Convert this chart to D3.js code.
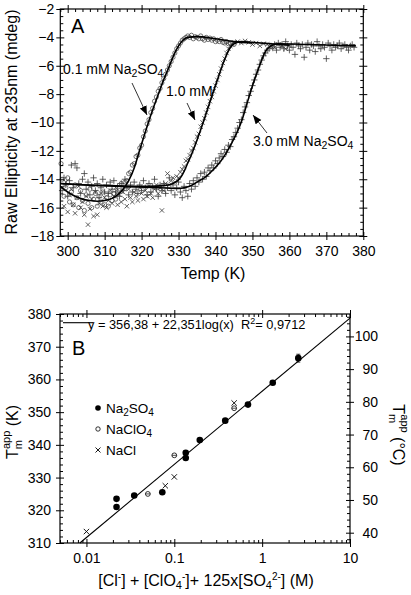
<!DOCTYPE html>
<html><head><meta charset="utf-8">
<script src="https://cdn.jsdelivr.net/npm/d3@7"></script>
<style>body{margin:0;background:#fff}svg{display:block}text{font-family:Arial,"Liberation Sans",Helvetica,sans-serif;fill:#000}</style>
</head><body><svg id="c" width="411" height="595"></svg>
<script>
// ---------- Panel A data (Temp K, mdeg) ----------
const circ01 = [[298.2,-12.9],[298.5,-14.0],[299,-15.2],[299.5,-14.6],[300,-13.9],[300.5,-15.6],[301,-14.9],[301.5,-15.8],[302,-14.4],[302.5,-15.3],[303,-16.0],[303.5,-14.8],[304,-15.5],[304.5,-16.2],[305,-15.1],[305.5,-15.7],[306,-14.7],[306.5,-16.0],[307,-15.4],[307.5,-15.0],[308,-15.9],[308.5,-15.2],[309,-15.6],[309.5,-14.9],[310,-15.8],[310.5,-15.3],[311,-15.9],[311.5,-15.1],[312,-15.5],[312.5,-15.0],[313,-15.4],[313.5,-14.9],[314,-14.8],[314.5,-14.3],[315,-14.6],[315.5,-14.2],[316,-14.1],[316.5,-13.6],[317,-13.5],[317.5,-13.0],[318,-12.9],[318.5,-12.4],[319,-12.3],[319.5,-11.8],[320,-11.6],[320.5,-11.0],[321,-10.6],[321.5,-10.1],[322,-9.8],[322.5,-9.3],[323,-9.0],[323.5,-8.5],[324,-8.2],[324.5,-7.8],[325,-7.6],[325.5,-7.2],[326,-6.9],[326.5,-6.6],[327,-6.3],[327.5,-6.0],[328,-5.7],[328.5,-5.4],[329,-5.1],[329.5,-4.8],[330,-4.6],[330.5,-4.4],[331,-4.2],[331.5,-4.1],[332,-4.0],[332.5,-3.9],[333,-4.0],[333.5,-3.85],[334,-4.1],[334.5,-3.95],[335,-4.0],[335.5,-4.1],[336,-3.9],[336.5,-4.1],[337,-4.2],[337.5,-4.0],[338,-4.15],[338.5,-4.05],[339,-4.2],[339.5,-4.1],[340,-4.3],[340.5,-4.2],[341,-4.3],[341.5,-4.15],[342,-4.35],[342.5,-4.4],[343,-4.3],[343.5,-4.45],[344,-4.4],[345,-4.5]];
const cross10 = [[298.5,-14.6],[299,-15.9],[299.5,-14.2],[300,-16.3],[300.5,-15.1],[301,-14.7],[301.5,-15.8],[302,-16.4],[302.5,-15.3],[303,-14.5],[303.5,-16.0],[304,-15.6],[304.5,-16.5],[305,-15.2],[305.5,-17.2],[306,-16.1],[306.5,-15.4],[307,-16.6],[307.5,-14.9],[308,-16.5],[308.5,-15.7],[309,-15.0],[309.5,-15.9],[310,-15.3],[310.5,-16.0],[311,-15.5],[311.5,-14.8],[312,-15.7],[312.5,-15.2],[313,-14.6],[313.5,-15.8],[314,-15.1],[314.5,-15.6],[315,-14.9],[315.5,-15.4],[316,-15.9],[316.5,-14.7],[317,-15.3],[317.5,-15.6],[318,-14.9],[318.5,-15.2],[319,-15.5],[319.5,-14.6],[320,-15.0],[320.5,-15.4],[321,-14.8],[321.5,-15.2],[322,-14.5],[322.5,-15.0],[323,-15.3],[323.5,-14.7],[324,-14.4],[324.5,-15.0],[325,-14.6],[325.5,-16.2],[326,-14.8],[326.5,-14.3],[327,-13.6],[327.5,-14.4],[328,-14.1],[328.5,-13.9],[329,-14.2],[329.5,-13.8],[330,-13.9],[330.5,-13.5],[331,-13.3],[331.5,-13.1],[332,-12.7],[332.5,-12.6],[333,-12.3],[333.5,-12.0],[334,-11.8],[334.5,-11.4],[335,-11.0],[335.5,-10.8],[336,-10.3],[336.5,-10.0],[337,-9.7],[337.5,-9.3],[338,-8.9],[338.5,-8.5],[339,-8.2],[339.5,-7.8],[340,-7.4],[340.5,-7.0],[341,-6.6],[341.5,-6.2],[342,-5.8],[342.5,-5.5],[343,-5.1],[343.5,-4.8],[344,-4.6],[344.5,-4.45],[345,-4.35],[346,-4.3],[347,-4.4],[348,-4.25],[349,-4.35],[350,-4.5],[351,-4.4],[352,-4.6],[353,-4.45],[354,-4.5],[355,-4.6],[356,-4.7],[357,-4.5],[358,-4.6],[359,-4.8],[360,-4.6]];
const plus30 = [[298.5,-14.8],[299,-13.9],[299.5,-14.4],[300,-15.2],[300.5,-14.1],[301,-13.0],[301.5,-14.6],[302,-12.9],[302.5,-13.2],[303,-14.3],[303.5,-15.0],[304,-14.0],[304.5,-13.6],[305,-14.7],[305.5,-14.2],[306,-15.1],[306.5,-14.5],[307,-13.9],[307.5,-14.8],[308,-14.3],[308.5,-15.3],[309,-14.6],[309.5,-14.0],[310,-14.9],[310.5,-14.4],[311,-15.0],[311.5,-14.2],[312,-14.7],[312.5,-14.1],[313,-14.9],[313.5,-14.5],[314,-15.2],[314.5,-14.3],[315,-14.8],[315.5,-14.0],[316,-14.6],[316.5,-15.1],[317,-14.4],[317.5,-14.9],[318,-14.2],[318.5,-14.7],[319,-15.0],[319.5,-14.4],[320,-14.8],[320.5,-14.1],[321,-14.6],[321.5,-15.1],[322,-14.3],[322.5,-14.9],[323,-14.5],[323.5,-14.0],[324,-14.7],[324.5,-15.2],[325,-14.4],[325.5,-14.8],[326,-14.3],[326.5,-15.0],[327,-14.6],[327.5,-13.9],[328,-14.8],[328.5,-14.4],[329,-15.1],[329.5,-14.6],[330,-14.2],[330.5,-14.9],[331,-15.3],[331.5,-14.5],[332,-14.8],[332.5,-15.2],[333,-14.3],[333.5,-14.7],[334,-14.1],[334.5,-14.5],[335,-13.9],[335.5,-14.2],[336,-13.6],[336.5,-14.0],[337,-13.5],[337.5,-13.8],[338,-13.2],[338.5,-13.4],[339,-13.0],[339.5,-13.2],[340,-12.7],[340.5,-12.9],[341,-12.5],[341.5,-12.2],[342,-12.4],[342.5,-11.9],[343,-12.1],[343.5,-11.6],[344,-11.7],[344.5,-11.2],[345,-11.0],[345.5,-10.7],[346,-10.4],[346.5,-10.0],[347,-9.8],[347.5,-9.3],[348,-8.9],[348.5,-8.6],[349,-8.1],[349.5,-7.8],[350,-7.4],[350.5,-7.0],[351,-6.6],[351.5,-6.3],[352,-5.9],[352.5,-5.6],[353,-5.3],[353.5,-5.1],[354,-4.9],[354.5,-4.8],[355,-4.6],[355.5,-4.75],[356,-4.5],[356.5,-4.9],[357,-4.4],[357.5,-4.7],[358,-4.5],[358.5,-4.8],[359,-4.3],[359.5,-4.6],[360,-4.9],[360.5,-4.5],[361,-4.7],[361.5,-5.2],[362,-4.4],[362.5,-4.6],[363,-4.8],[363.5,-4.5],[364,-5.4],[364.5,-4.7],[365,-4.4],[365.5,-4.9],[366,-4.5],[366.5,-4.6],[367,-5.0],[367.5,-4.3],[368,-4.6],[368.5,-4.8],[369,-4.5],[369.5,-4.7],[370,-5.5],[370.5,-4.4],[371,-4.6],[371.5,-4.9],[372,-4.5],[372.5,-4.7],[373,-4.6],[373.5,-4.4],[374,-4.8],[374.5,-4.6],[375,-4.5],[375.5,-4.7],[376,-4.9],[376.5,-4.6],[377,-4.5],[377.5,-4.7]];
const fit01 = [[298,-14.5],[300,-14.9],[302,-15.2],[304,-15.4],[306,-15.5],[308,-15.55],[310,-15.5],[312,-15.35],[313.5,-15.1],[315,-14.7],[316.5,-14.1],[318,-13.2],[319.3,-12.1],[320.5,-11.1],[321.7,-10.1],[323,-9.1],[324.4,-8.1],[325.8,-7.1],[327.4,-6.1],[328.8,-5.2],[330,-4.6],[331.2,-4.2],[332.5,-4.0],[335,-3.95],[340,-4.1],[345,-4.3],[350,-4.4]];
const fit10 = [[298,-14.3],[305,-14.4],[312,-14.45],[318,-14.5],[322,-14.5],[326,-14.45],[328,-14.35],[329.5,-14.15],[330.5,-13.9],[331.5,-13.45],[332.5,-12.85],[333.6,-12.2],[334.7,-11.45],[335.8,-10.65],[336.8,-9.9],[338,-8.95],[339.2,-8.0],[340.5,-7.0],[341.7,-6.1],[342.8,-5.35],[343.8,-4.8],[345,-4.45],[347,-4.3],[350,-4.35],[355,-4.45],[360,-4.55]];
const fit30 = [[298,-14.3],[305,-14.4],[315,-14.5],[325,-14.6],[330,-14.65],[333,-14.5],[335,-14.2],[337.5,-13.8],[339.5,-13.3],[341.5,-12.7],[343,-12.1],[344.5,-11.4],[346,-10.6],[347.2,-9.8],[348.6,-8.6],[349.9,-7.5],[351.5,-6.3],[353.5,-5.0],[355,-4.6],[357,-4.45],[365,-4.5],[372,-4.55],[378,-4.6]];
const xTicksA = [300,310,320,330,340,350,360,370,380];
const yTicksA = [-18,-16,-14,-12,-10,-8,-6,-4,-2];

// ---------- Panel B data ----------
const na2so4 = [[0.022,323.5],[0.022,321.0],[0.035,324.5],[0.073,325.5],[0.135,336.0],[0.135,337.6],[0.195,341.5],[0.38,347.4],[0.69,352.3],[1.32,359.0],[2.58,366.5]];
const na2so4Err = [0,0,0,0,0,0,0,0,0,0,1.2];
const naclo4 = [[0.05,325.0],[0.1,336.8],[0.48,351.2]];
const nacl = [[0.01,313.5],[0.079,327.5],[0.1,330.2],[0.48,352.8]];
const fitB = {a:356.38, b:22.351};
const xTicksB = [0.01,0.1,1,10];
const yTicksB = [310,320,330,340,350,360,370,380];
const cTicksB = [40,50,60,70,80,90,100];

const svg = d3.select("#c");
const ink = "#000";
const dataCol = "#3a3a3a";
const TICKFS = "14px";

const defs = svg.append("defs");
defs.append("marker").attr("id","ah").attr("viewBox","0 0 10 10").attr("refX",10).attr("refY",5)
  .attr("markerWidth",9).attr("markerHeight",9).attr("markerUnits","userSpaceOnUse").attr("orient","auto")
  .append("path").attr("d","M0,1 L10,5 L0,9 Z").attr("fill",ink);

function frameAxes(g, x, y, o){
  const [x0,x1] = x.range(), [y0,y1] = y.range();
  const mk = (axisFn, scale, vals, size, fmt, pad) => axisFn(scale).tickValues(vals).tickSize(size).tickPadding(pad||3).tickFormat(fmt||"");
  const add = (tr, ax) => { const a = g.append("g").attr("transform",tr).call(ax); a.select(".domain").remove(); a.selectAll("line").attr("stroke",ink).attr("stroke-width",1); a.selectAll("text").style("font-size",TICKFS).style("font-family",'Arial,"Liberation Sans",sans-serif'); return a; };
  add(`translate(0,${y0})`, mk(d3.axisBottom, x, o.xMaj, 4, o.xFmt, o.xPad));
  add(`translate(0,${y0})`, mk(d3.axisBottom, x, o.xMaj, -4));
  add(`translate(0,${y0})`, mk(d3.axisBottom, x, o.xMin, -3));
  add(`translate(0,${y1})`, mk(d3.axisTop, x, o.xMaj, 4));
  add(`translate(0,${y1})`, mk(d3.axisTop, x, o.xMaj, -4));
  add(`translate(0,${y1})`, mk(d3.axisTop, x, o.xMin, -3));
  add(`translate(${x0},0)`, mk(d3.axisLeft, y, o.yMaj, 4, o.yFmt, o.yPad));
  add(`translate(${x0},0)`, mk(d3.axisLeft, y, o.yMaj, -4));
  add(`translate(${x0},0)`, mk(d3.axisLeft, y, o.yMin, -3));
  const ry = o.ry || y;
  const r = add(`translate(${x1},0)`, mk(d3.axisRight, ry, o.rMaj || o.yMaj, 4, o.rFmt, o.rPad));
  if (o.rFmt) r.selectAll("text").attr("text-anchor","end").attr("x", o.rEnd);
  add(`translate(${x1},0)`, mk(d3.axisRight, ry, o.rMaj || o.yMaj, -4));
  add(`translate(${x1},0)`, mk(d3.axisRight, ry, o.rMin || o.yMin, -3));
  g.append("rect").attr("x",x0).attr("y",y1).attr("width",x1-x0).attr("height",y0-y1)
    .attr("fill","none").attr("stroke",ink).attr("stroke-width",1.2);
}

// ================= Panel A =================
const gA = svg.append("g");
const xA = d3.scaleLinear().domain([298,380]).range([60.3,363.3]);
const yA = d3.scaleLinear().domain([-18,-2]).range([236,9]);

const dA = gA.append("g");
dA.selectAll("circle.c").data(circ01).join("circle").attr("cx",d=>xA(d[0])).attr("cy",d=>yA(d[1])).attr("r",2.1)
  .attr("fill","none").attr("stroke",dataCol).attr("stroke-width",0.7);
dA.selectAll("path.x").data(cross10).join("path").attr("class","x")
  .attr("d",d=>{const cx=xA(d[0]),cy=yA(d[1]),s=2.2;return `M${cx-s},${cy-s}L${cx+s},${cy+s}M${cx-s},${cy+s}L${cx+s},${cy-s}`;})
  .attr("stroke",dataCol).attr("stroke-width",0.8);
dA.selectAll("path.p").data(plus30).join("path").attr("class","p")
  .attr("d",d=>{const cx=xA(d[0]),cy=yA(d[1]),s=3.2;return `M${cx-s},${cy}L${cx+s},${cy}M${cx},${cy-s}L${cx},${cy+s}`;})
  .attr("stroke",dataCol).attr("stroke-width",0.8);

const lineA = d3.line().x(d=>xA(d[0])).y(d=>yA(d[1])).curve(d3.curveMonotoneX);
[fit01, fit10, fit30].forEach(f => gA.append("path").attr("d",lineA(f)).attr("fill","none").attr("stroke",ink).attr("stroke-width",1.6));

frameAxes(gA, xA, yA, {
  xMaj:xTicksA, xMin:d3.range(298,381,2).filter(v=>v%10), xFmt:d3.format("d"), xPad:6,
  yMaj:yTicksA, yMin:d3.range(-18,-1.9,0.5).filter(v=>Math.abs(v%2)>0.01), yFmt:d3.format("d"), yPad:2
});

gA.append("text").attr("x",71).attr("y",33).style("font-size","20px").text("A");
gA.append("text").attr("x",13).attr("y",122).attr("text-anchor","middle").attr("dominant-baseline","middle")
  .attr("transform","rotate(-90,13,122)").style("font-size","16px").text("Raw Ellipticity at 235nm (mdeg)");
gA.append("text").attr("x",213).attr("y",279).attr("text-anchor","middle").style("font-size","16px").text("Temp (K)");

function chem(g, x, y, parts, size){
  const t = g.append("text").attr("x",x).attr("y",y).style("font-size",size+"px");
  parts.forEach(p => {
    if (typeof p === "string") t.append("tspan").text(p);
    else t.append("tspan").attr("dy", p.dy).style("font-size", p.fs+"px").text(p.t);
  });
  return t;
}
chem(gA, 63, 74, ["0.1 mM Na",{t:"2",dy:3,fs:10.5},{t:"SO",dy:-3,fs:14},{t:"4",dy:3,fs:10.5}], 14);
chem(gA, 166, 96, ["1.0 mM"], 14);
chem(gA, 253, 146, ["3.0 mM Na",{t:"2",dy:3,fs:10.5},{t:"SO",dy:-3,fs:14},{t:"4",dy:3,fs:10.5}], 14);
const arrows = [[132,83,147,115],[187,103,195,120],[267,133,253,115]];
arrows.forEach(a => gA.append("line").attr("x1",a[0]).attr("y1",a[1]).attr("x2",a[2]).attr("y2",a[3])
  .attr("stroke",ink).attr("stroke-width",0.8).attr("marker-end","url(#ah)"));

// ================= Panel B =================
const gB = svg.append("g");
const xB = d3.scaleLog().domain([0.005,10]).range([60,350]);
const yB = d3.scaleLinear().domain([310,380]).range([543,314]);
const cB = d3.scaleLinear().domain([310-273.15,380-273.15]).range([543,314]);

const logMinor = [];
[0.001,0.01,0.1,1].forEach(dec => { for (let k=2;k<=9;k++){ const v=dec*k; if (v>=0.005 && v<=10) logMinor.push(v);} });

frameAxes(gB, xB, yB, {
  xMaj:xTicksB, xMin:logMinor, xFmt:d=>String(d), xPad:6,
  yMaj:yTicksB, yMin:d3.range(310,381,2).filter(v=>v%10), yFmt:d3.format("d"), yPad:5,
  ry:cB, rMaj:cTicksB, rMin:d3.range(38,107,2).filter(v=>v%10), rFmt:d3.format("d"), rEnd:28
});

const fitX0 = Math.pow(10,(310-fitB.a)/fitB.b), fitX1 = 10;
gB.append("line").attr("x1",xB(fitX0)).attr("y1",yB(fitB.a+fitB.b*Math.log10(fitX0)))
  .attr("x2",xB(fitX1)).attr("y2",yB(fitB.a+fitB.b*Math.log10(fitX1))).attr("stroke",ink).attr("stroke-width",1.1);

na2so4.forEach((d,i) => { if (na2so4Err[i]>0){
  const cx=xB(d[0]);
  gB.append("line").attr("x1",cx).attr("x2",cx).attr("y1",yB(d[1]-na2so4Err[i])).attr("y2",yB(d[1]+na2so4Err[i])).attr("stroke",ink).attr("stroke-width",0.8);
  [d[1]-na2so4Err[i], d[1]+na2so4Err[i]].forEach(v=>gB.append("line").attr("x1",cx-2).attr("x2",cx+2).attr("y1",yB(v)).attr("y2",yB(v)).attr("stroke",ink).attr("stroke-width",0.8));
}});
gB.selectAll("circle.f").data(na2so4).join("circle").attr("class","f").attr("cx",d=>xB(d[0])).attr("cy",d=>yB(d[1])).attr("r",3.3).attr("fill",ink);
const oB = gB.selectAll("g.o").data(naclo4).join("g").attr("class","o");
oB.append("circle").attr("cx",d=>xB(d[0])).attr("cy",d=>yB(d[1])).attr("r",2.4).attr("fill","#fff").attr("stroke",ink).attr("stroke-width",0.8);
oB.append("line").attr("x1",d=>xB(d[0])-2.4).attr("x2",d=>xB(d[0])+2.4).attr("y1",d=>yB(d[1])).attr("y2",d=>yB(d[1])).attr("stroke",ink).attr("stroke-width",0.7);
gB.selectAll("path.n").data(nacl).join("path").attr("class","n")
  .attr("d",d=>{const cx=xB(d[0]),cy=yB(d[1]),s=2.7;return `M${cx-s},${cy-s}L${cx+s},${cy+s}M${cx-s},${cy+s}L${cx+s},${cy-s}`;})
  .attr("stroke",ink).attr("stroke-width",0.9);

gB.append("line").attr("x1",63).attr("x2",93).attr("y1",322.7).attr("y2",322.7).attr("stroke",ink).attr("stroke-width",1.1);
chem(gB, 88, 329, ["y = 356,38 + 22,351log(x)\u00a0 R",{t:"2",dy:-5,fs:9},{t:"= 0,9712",dy:5,fs:12.8}], 12.8);
gB.append("text").attr("x",72).attr("y",355).style("font-size","20px").text("B");

gB.append("circle").attr("cx",98).attr("cy",408).attr("r",2.8).attr("fill",ink);
chem(gB, 106, 413, ["Na",{t:"2",dy:3,fs:10},{t:"SO",dy:-3,fs:13.5},{t:"4",dy:3,fs:10}], 13.5);
gB.append("circle").attr("cx",98).attr("cy",429).attr("r",2.2).attr("fill","none").attr("stroke",ink).attr("stroke-width",0.8);
chem(gB, 106, 434, ["NaClO",{t:"4",dy:3,fs:10}], 13.5);
gB.append("path").attr("d","M95.5,447.5L100.5,452.5M95.5,452.5L100.5,447.5").attr("stroke",ink).attr("stroke-width",0.9);
chem(gB, 106, 455, ["NaCl"], 13.5);

const tl = gB.append("text").attr("transform","translate(18,432) rotate(-90)").attr("text-anchor","middle").style("font-size","16px");
tl.append("tspan").text("T");
tl.append("tspan").attr("dy",4).style("font-size","11px").text("m");
tl.append("tspan").attr("dx",-9).attr("dy",-12).style("font-size","11px").text("app");
tl.append("tspan").attr("dy",8).text(" (K)");
const tr = gB.append("text").attr("transform","translate(393,435) rotate(90)").attr("text-anchor","middle").style("font-size","16px");
tr.append("tspan").text("T");
tr.append("tspan").attr("dy",4).style("font-size","11px").text("m");
tr.append("tspan").attr("dx",-9).attr("dy",-12).style("font-size","11px").text("app");
tr.append("tspan").attr("dy",8).text(" (°C)");

const xl = gB.append("text").attr("x",206).attr("y",586).attr("text-anchor","middle").style("font-size","16px");
xl.append("tspan").text("[Cl");
xl.append("tspan").attr("dy",-6).style("font-size","10px").text("-");
xl.append("tspan").attr("dy",6).text("] + [ClO");
xl.append("tspan").attr("dy",3).style("font-size","11px").text("4");
xl.append("tspan").attr("dy",-9).style("font-size","10px").text("-");
xl.append("tspan").attr("dy",6).text("]+ 125x[SO");
xl.append("tspan").attr("dy",3).style("font-size","11px").text("4");
xl.append("tspan").attr("dy",-9).style("font-size","10px").text("2-");
xl.append("tspan").attr("dy",6).text("] (M)");
</script></body></html>
